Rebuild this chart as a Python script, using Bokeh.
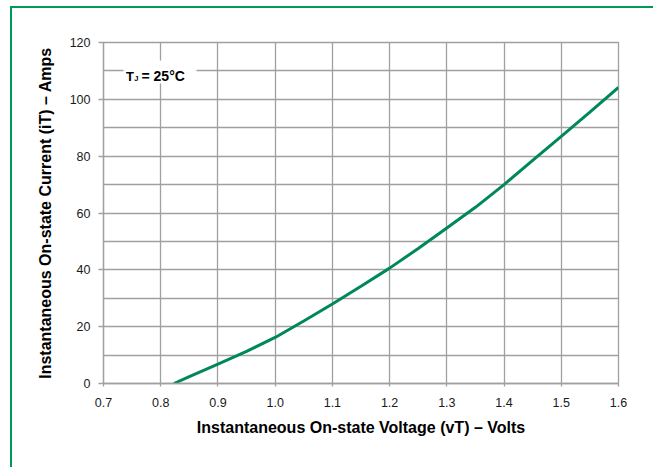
from bokeh.plotting import figure
from bokeh.layouts import column
from bokeh.models import FixedTicker, Label, BoxAnnotation, Range1d, PrintfTickFormatter, Div
from bokeh.embed import file_html
from bokeh.resources import INLINE

# ---- data ----
voltage = [0.823, 0.85, 0.90, 0.95, 1.00, 1.05, 1.10, 1.15, 1.20, 1.25,
           1.30, 1.35, 1.40, 1.45, 1.50, 1.55, 1.60]
current = [0.0, 2.4, 6.8, 11.3, 16.2, 22.0, 28.0, 34.2, 40.6, 47.5,
           54.7, 62.0, 70.0, 78.5, 87.0, 95.5, 104.2]
x_ticks = [0.7, 0.8, 0.9, 1.0, 1.1, 1.2, 1.3, 1.4, 1.5, 1.6]
y_ticks = [0, 20, 40, 60, 80, 100, 120]
y_grid = [0, 10, 20, 30, 40, 50, 60, 70, 80, 90, 100, 110, 120]
x_title = "Instantaneous On-state Voltage (vT) \u2013 Volts"
y_title = "Instantaneous On-state Current (iT) \u2013 Amps"
note = ["T", "J", "= 25\u00b0C"]

GREEN = "#00995a"
LINE = "#00875a"
GRID = "#a0a0a0"
FONT = "Liberation Sans"

p = figure(width=633, height=449, output_backend="svg", toolbar_location=None,
           x_range=Range1d(0.7, 1.6), y_range=Range1d(0, 120),
           min_border_left=91, min_border_right=27, min_border_top=34,
           min_border_bottom=74, margin=(8, 0, 0, 12))
p.background_fill_color = "white"
p.border_fill_color = "white"
p.outline_line_color = GRID
p.outline_line_width = 1.3

# frame in page pixels: left 103, right 618, top 42, bottom 383
def dx(px):
    return 0.7 + (px - 103) * 0.9 / 515.0

def dy(py):
    return (383 - py) * 120.0 / 341.0

for ax in (p.xaxis[0], p.yaxis[0]):
    ax.axis_line_color = GRID
    ax.axis_line_width = 1.3
    ax.major_tick_line_color = GRID
    ax.major_tick_line_width = 1.3
    ax.minor_tick_line_color = None
    ax.major_tick_in = 0
    ax.major_label_text_font = FONT
    ax.major_label_text_font_size = "12.5px"
    ax.major_label_text_color = "#1a1a1a"
    ax.axis_label_text_font = FONT
    ax.axis_label_text_font_style = "bold"
    ax.axis_label_text_font_size = "16px"
    ax.axis_label_text_color = "black"

p.xaxis.ticker = FixedTicker(ticks=x_ticks)
p.xaxis.formatter = PrintfTickFormatter(format="%.1f")
p.xaxis.major_tick_out = 3
p.xaxis.major_label_standoff = 11
p.xaxis.axis_label = x_title
p.xaxis.axis_label_standoff = 9
p.yaxis.ticker = FixedTicker(ticks=y_ticks)
p.yaxis.major_tick_out = 5
p.yaxis.major_label_standoff = 8
p.yaxis.axis_label = y_title
p.yaxis.axis_label_standoff = 13

p.xgrid.ticker = FixedTicker(ticks=x_ticks)
p.ygrid.ticker = FixedTicker(ticks=y_grid)
for g in (p.xgrid[0], p.ygrid[0]):
    g.grid_line_color = GRID
    g.grid_line_width = 1.3

p.line(voltage, current, line_width=3, line_color=LINE)

# annotation box
p.add_layout(BoxAnnotation(left=dx(123), right=dx(196), top=dy(60), bottom=dy(83),
                           fill_color="white", fill_alpha=1.0, line_color=None))
p.add_layout(Label(x=dx(129.5), y=dy(75.5), text=note[0], text_font=FONT,
                   text_font_style="bold", text_font_size="13px",
                   text_align="center", text_baseline="alphabetic", text_color="black"))
p.add_layout(Label(x=dx(135.8), y=dy(77.5), text=note[1], text_font=FONT,
                   text_font_style="bold", text_font_size="7.5px",
                   text_align="center", text_baseline="alphabetic", text_color="black"))
p.add_layout(Label(x=dx(141), y=dy(75.5), text=note[2], text_font=FONT,
                   text_font_style="bold", text_font_size="14px",
                   text_align="left", text_baseline="alphabetic", text_color="black"))

frame_lines = Div(
    text=(f'<div style="position:fixed;left:10px;top:6px;width:900px;height:900px;'
          f'border-left:2px solid {GREEN};border-top:2px solid {GREEN};'
          f'pointer-events:none;"></div>'),
    width=1, height=1, margin=0)

layout = column(p, frame_lines, margin=0, spacing=0)

open("out.html", "w").write(file_html(layout, INLINE))
